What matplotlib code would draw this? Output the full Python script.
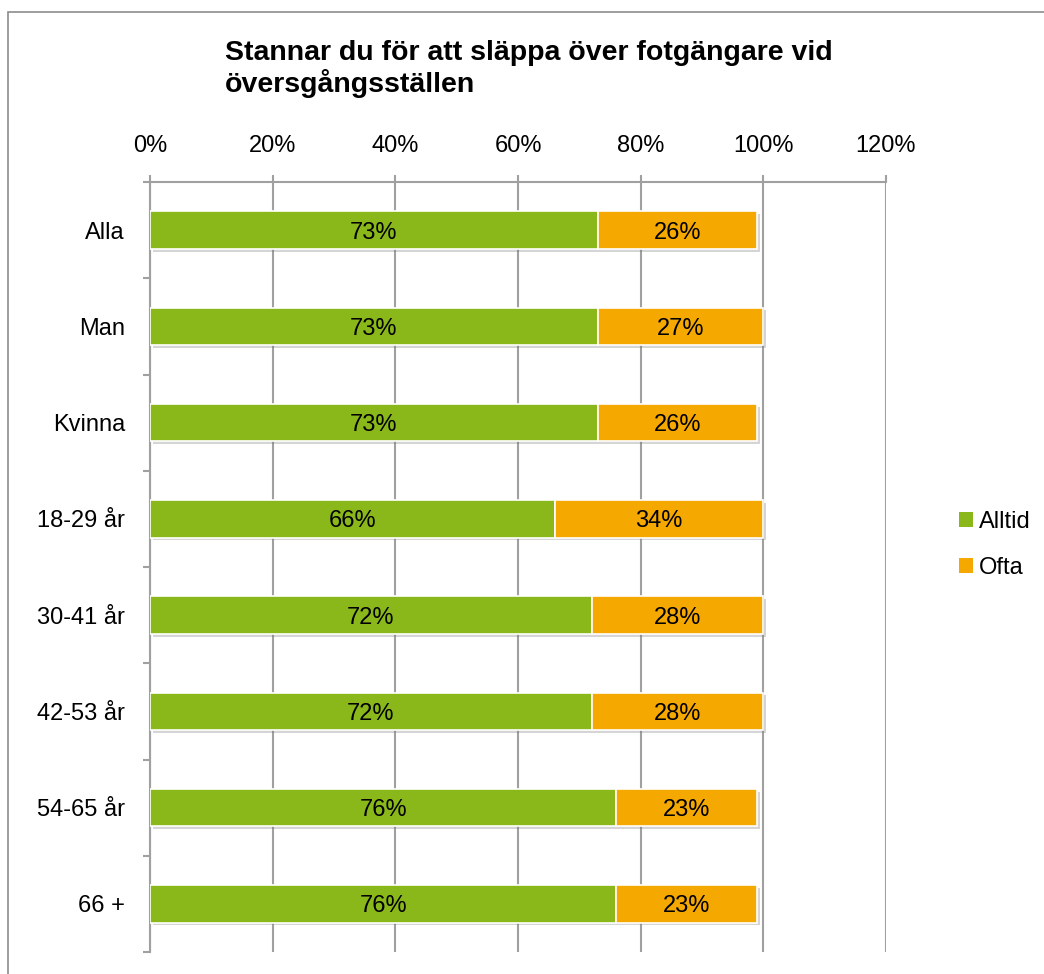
import matplotlib
matplotlib.use("Agg")
import matplotlib.pyplot as plt
import matplotlib.patheffects as pe
from matplotlib.patches import Rectangle, Patch
import numpy as np

categories = ["Alla", "Man", "Kvinna", "18-29 år", "30-41 år", "42-53 år", "54-65 år", "66 +"]
alltid = [73, 73, 73, 66, 72, 72, 76, 76]
ofta = [26, 27, 26, 34, 28, 28, 23, 23]
series_names = ["Alltid", "Ofta"]
xticks = [0, 20, 40, 60, 80, 100, 120]
title = "Stannar du för att släppa över fotgängare vid\növersgångsställen"

GREEN = "#8ab81a"
ORANGE = "#f5a800"
GRID = "#a0a0a0"

plt.rcParams["font.family"] = ["Liberation Sans", "DejaVu Sans"]

fig = plt.figure(figsize=(10.44, 9.74), dpi=100)
ax = fig.add_axes([150 / 1044, 1 - 952 / 974, 736 / 1044, 770 / 974])

# outer chart frame (runs off the right and bottom of the image)
fig.patches.append(Rectangle((7.5 / 1044, -0.1), 1.2, 1 - 12 / 974 + 0.1,
                             transform=fig.transFigure, fill=False,
                             edgecolor="#8c8c8c", linewidth=1.2))

y = np.arange(len(categories))
shadow = [pe.SimplePatchShadow(offset=(2, -2), alpha=0.3, shadow_rgbFace="#777777"),
          pe.Normal()]
b1 = ax.barh(y, alltid, height=0.39, color=GREEN, edgecolor="white", linewidth=1.2,
             zorder=3)
b2 = ax.barh(y, ofta, left=alltid, height=0.39, color=ORANGE, edgecolor="white",
             linewidth=1.2, zorder=3)
for bars in (b1, b2):
    for b in bars:
        b.set_path_effects(shadow)

for i in range(len(categories)):
    ax.text(alltid[i] / 2, y[i], f"{alltid[i]}%", ha="center", va="center_baseline",
            fontsize=17, zorder=4)
    ax.text(alltid[i] + ofta[i] / 2, y[i], f"{ofta[i]}%", ha="center",
            va="center_baseline", fontsize=17, zorder=4)

ax.set_xlim(0, 120)
ax.set_ylim(len(categories) - 0.5, -0.5)
ax.xaxis.tick_top()
ax.set_xticks(xticks)
ax.set_xticklabels([f"{t}%" for t in xticks], fontsize=17)
ax.tick_params(axis="x", length=5, width=1.5, color=GRID, pad=13)
ax.grid(axis="x", color=GRID, linewidth=1.5, zorder=0)

ax.set_yticks(y)
ax.set_yticklabels(categories, fontsize=17)
ax.tick_params(axis="y", which="major", length=0, pad=18)
ax.set_yticks(np.arange(len(categories) + 1) - 0.5, minor=True)
ax.tick_params(axis="y", which="minor", length=5, width=1.5, color=GRID)

for side in ("right", "bottom"):
    ax.spines[side].set_visible(False)
for side in ("top", "left"):
    ax.spines[side].set_color(GRID)
    ax.spines[side].set_linewidth(1.5)

fig.text(225 / 1044, 1 - 40 / 974, title, fontsize=20.5, fontweight="bold",
         ha="left", va="top", linespacing=1.15)

handles = [Patch(facecolor=GREEN), Patch(facecolor=ORANGE)]
fig.legend(handles, series_names, loc="center left",
           bbox_to_anchor=(959 / 1044, 1 - 545 / 974), frameon=False,
           fontsize=17, handlelength=0.6, handleheight=0.6, handletextpad=0.25,
           labelspacing=1.0, borderpad=0, borderaxespad=0)

fig.savefig("out.png", dpi=100)
